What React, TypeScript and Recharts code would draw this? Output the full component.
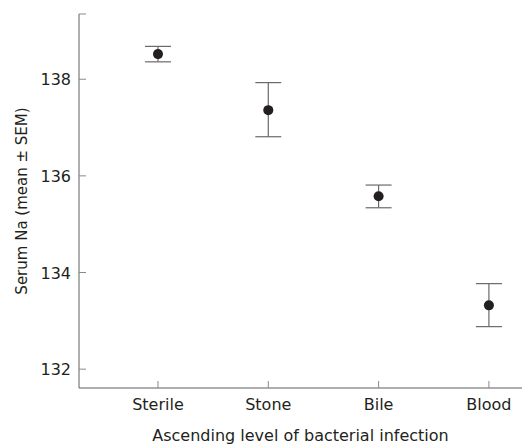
import React from 'react';
import { ScatterChart, Scatter, XAxis, YAxis, ErrorBar } from 'recharts';

// groups along the x axis
const groups = ['Sterile', 'Stone', 'Bile', 'Blood'];
// mean serum Na per group
const means = [138.52, 137.36, 135.58, 133.32];
// SEM below / above the mean
const semLow = [0.16, 0.55, 0.24, 0.44];
const semHigh = [0.16, 0.57, 0.23, 0.45];
const yTicks = [132, 134, 136, 138];

const data = groups.map((g, i) => ({
  x: i + 1,
  name: g,
  y: means[i],
  err: [semLow[i], semHigh[i]],
}));

const FONT = 'DejaVu Sans';
const AXIS = '#5e5e5e';

const XTick = (props: any) => {
  const { x, y, payload } = props;
  return (
    <g>
      <line x1={x} y1={y} x2={x} y2={y - 7} stroke="#8a8a8a" />
      <text x={x} y={y + 22} textAnchor="middle" fontFamily={FONT} fontSize={16} fill="#231f20">
        {groups[payload.value - 1]}
      </text>
    </g>
  );
};

const YTick = (props: any) => {
  const { x, y, payload } = props;
  const labelled = Number.isInteger(payload.value);
  return (
    <g>
      <line x1={x} y1={y} x2={x + 7} y2={y} stroke="#8a8a8a" />
      {labelled && (
        <text x={x - 8} y={y + 6} textAnchor="end" fontFamily={FONT} fontSize={16} fill="#231f20">
          {payload.value}
        </text>
      )}
    </g>
  );
};

const Dot = (props: any) => <circle cx={props.cx} cy={props.cy} r={5} fill="#231f20" />;

export default function App() {
  return (
    <div style={{ position: 'absolute', left: 0, top: 0, background: '#fff' }}>
      <ScatterChart width={526} height={445} margin={{ top: 14, right: 4, left: 0, bottom: 0 }}>
        <XAxis
          type="number"
          dataKey="x"
          domain={[0.284, 4.3]}
          ticks={[1, 2, 3, 4]}
          allowDataOverflow
          height={57}
          stroke={AXIS}
          tickLine={false}
          tickSize={0}
          tickMargin={0}
          tick={<XTick />}
          label={{
            value: 'Ascending level of bacterial infection',
            position: 'insideBottom',
            offset: 4,
            fontFamily: FONT,
            fontSize: 16,
            fill: '#231f20',
          }}
        />
        <YAxis
          type="number"
          dataKey="y"
          domain={[131.61, 139.35]}
          ticks={[...yTicks, 139.35]}
          allowDataOverflow
          width={79}
          stroke={AXIS}
          tickLine={false}
          tickSize={0}
          tickMargin={0}
          tick={<YTick />}
          label={{
            value: 'Serum Na (mean ± SEM)',
            angle: -90,
            position: 'insideLeft',
            offset: 22,
            style: { textAnchor: 'middle' },
            fontFamily: FONT,
            fontSize: 15,
            fill: '#231f20',
          }}
        />
        <Scatter data={data} shape={<Dot />} isAnimationActive={false}>
          <ErrorBar dataKey="err" direction="y" width={13} stroke="#6a6a6a" strokeWidth={1.2} />
        </Scatter>
      </ScatterChart>
    </div>
  );
}
